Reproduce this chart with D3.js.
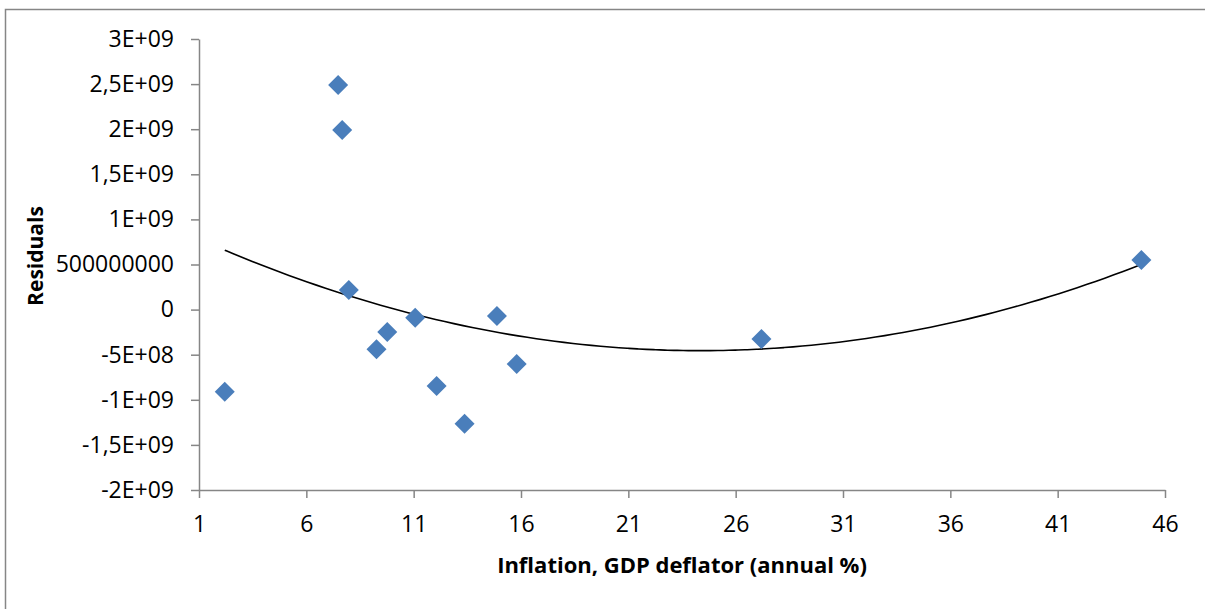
<!DOCTYPE html>
<html lang="en">
<head>
  <meta charset="UTF-8">
  <title>Residuals</title>
  <script src="https://d3js.org/d3.v7.min.js"></script>
  <style>
    * { margin: 0; padding: 0; box-sizing: border-box; }
    body { background: #fff; font-family: "Open Sans", Arial, sans-serif; }
    .axis text { font-size: 23px; fill: #000; font-family: "Open Sans", sans-serif; }
    .axis path, .axis line { stroke: #868686; stroke-width: 1.5; }
  </style>
</head>
<body>
  <div id="chart"></div>
  <script>
    // residuals vs inflation
    const inflation = [2.2, 7.48, 7.67, 7.98, 9.27, 9.77, 11.07, 12.07, 13.37, 14.88, 15.8, 27.2, 44.9];
    const residuals = [-0.91e9, 2.49e9, 1.99e9, 0.217e9, -0.44e9, -0.248e9, -0.09e9, -0.847e9, -1.265e9, -0.071e9, -0.603e9, -0.326e9, 0.55e9];

    const xTicks = [1, 6, 11, 16, 21, 26, 31, 36, 41, 46];
    const yTicks = [3e9, 2.5e9, 2e9, 1.5e9, 1e9, 5e8, 0, -5e8, -1e9, -1.5e9, -2e9];
    const yTickLabels = ["3E+09", "2,5E+09", "2E+09", "1,5E+09", "1E+09", "500000000", "0", "-5E+08", "-1E+09", "-1,5E+09", "-2E+09"];

    const W = 1205, H = 609;
    const margin = {top: 39, right: 40, bottom: 119, left: 199};
    const width = 1165 - margin.left,
          height = 490 - margin.top;

    const root = d3.select("#chart").append("svg")
      .attr("width", W).attr("height", H);

    // chart area border (right/bottom edge fall outside the picture)
    root.append("rect")
      .attr("x", 5.5).attr("y", 9.5)
      .attr("width", W + 10).attr("height", H + 10)
      .attr("fill", "#fff")
      .attr("stroke", "#868686")
      .attr("stroke-width", 1.5);

    const svg = root.append("g")
      .attr("transform", `translate(${margin.left},${margin.top})`);

    const x = d3.scaleLinear().domain([1, 46]).range([0, width]);
    const y = d3.scaleLinear().domain([-2e9, 3e9]).range([height, 0]);

    svg.append("g")
      .attr("class", "axis")
      .attr("transform", `translate(0,${height})`)
      .call(d3.axisBottom(x).tickValues(xTicks).tickSize(8).tickPadding(18).tickSizeOuter(0));

    svg.append("g")
      .attr("class", "axis")
      .call(d3.axisLeft(y).tickValues(yTicks)
        .tickFormat((d, i) => yTickLabels[i])
        .tickSize(8).tickPadding(17).tickSizeOuter(0));

    // polynomial (order 2) trendline, least squares on the points
    function polyFit(xs, ys) {
      const n = xs.length;
      let s = [0, 0, 0, 0, 0], t = [0, 0, 0];
      for (let i = 0; i < n; i++) {
        for (let k = 0; k < 5; k++) s[k] += Math.pow(xs[i], k);
        for (let k = 0; k < 3; k++) t[k] += ys[i] * Math.pow(xs[i], k);
      }
      const A = [[s[0], s[1], s[2], t[0]], [s[1], s[2], s[3], t[1]], [s[2], s[3], s[4], t[2]]];
      for (let c = 0; c < 3; c++) {
        for (let r = c + 1; r < 3; r++) {
          const f = A[r][c] / A[c][c];
          for (let k = c; k < 4; k++) A[r][k] -= f * A[c][k];
        }
      }
      const b = [0, 0, 0];
      for (let r = 2; r >= 0; r--) {
        let v = A[r][3];
        for (let k = r + 1; k < 3; k++) v -= A[r][k] * b[k];
        b[r] = v / A[r][r];
      }
      return b;
    }
    const coef = polyFit(inflation, residuals);
    const xMin = d3.min(inflation), xMax = d3.max(inflation);
    const trend = d3.range(0, 101).map(i => {
      const xv = xMin + (xMax - xMin) * i / 100;
      return [xv, coef[0] + coef[1] * xv + coef[2] * xv * xv];
    });

    svg.append("path")
      .datum(trend)
      .attr("fill", "none")
      .attr("stroke", "#000")
      .attr("stroke-width", 1.6)
      .attr("d", d3.line().x(d => x(d[0])).y(d => y(d[1])).curve(d3.curveBasis));

    svg.selectAll(".pt")
      .data(inflation.map((v, i) => [v, residuals[i]]))
      .enter()
      .append("path")
      .attr("class", "pt")
      .attr("transform", d => `translate(${x(d[0])},${y(d[1])})`)
      .attr("d", "M0,-10L10,0L0,10L-10,0Z")
      .attr("fill", "#4a7ebb");

    svg.append("text")
      .attr("x", width / 2)
      .attr("y", 573 - margin.top)
      .attr("text-anchor", "middle")
      .style("font-size", "22px")
      .style("font-weight", "bold")
      .text("Inflation, GDP deflator (annual %)");

    svg.append("text")
      .attr("transform", `translate(${43 - margin.left},${256 - margin.top}) rotate(-90)`)
      .attr("text-anchor", "middle")
      .style("font-size", "21px")
      .style("font-weight", "bold")
      .text("Residuals");
  </script>
</body>
</html>
